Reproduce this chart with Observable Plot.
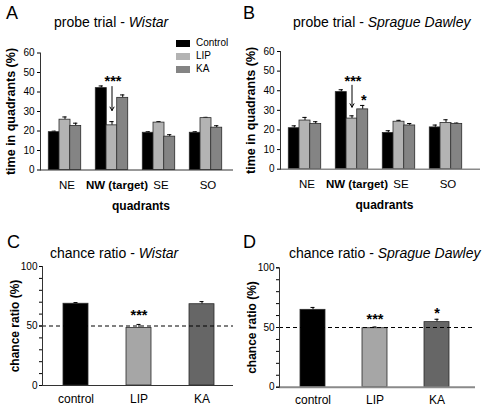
<!DOCTYPE html>
<html><head><meta charset="utf-8">
<script src="https://cdn.jsdelivr.net/npm/d3@7"></script>
<script src="https://cdn.jsdelivr.net/npm/@observablehq/plot@0.6"></script>
<style>
body{margin:0;background:#fff;}
#fig{position:relative;width:483px;height:407px;font-family:"Liberation Sans",Arial,sans-serif;color:#000;overflow:hidden;background:#fff}
.abs{position:absolute;line-height:1;white-space:nowrap}
.letter{font-size:18px}
.title{font-size:14px}
.sw{position:absolute;width:14px;height:7px}
.lg{position:absolute;font-size:10px;line-height:1}
svg{position:absolute;overflow:visible}
</style></head>
<body><div id="fig"></div>
<script>
// ---------- data ----------
const quadrants = ["NE", "NW (target)", "SE", "SO"];
const treatments = ["Control", "LIP", "KA"];
const wistarControl = [19.4, 42.0, 19.1, 19.1];
const wistarLIP = [25.8, 22.9, 24.3, 26.6];
const wistarKA = [22.6, 37.0, 17.1, 21.7];
const wistarControlErr = [0.5, 1.1, 0.5, 0.5];
const wistarLIPErr = [1.4, 1.9, 0.5, 0.4];
const wistarKAErr = [1.4, 1.5, 1.0, 1.0];
const sdControl = [20.9, 39.3, 18.5, 21.3];
const sdLIP = [24.8, 25.8, 24.2, 23.6];
const sdKA = [23.0, 30.5, 22.3, 23.1];
const sdControlErr = [1.2, 1.2, 1.1, 1.2];
const sdLIPErr = [1.6, 1.4, 0.7, 1.6];
const sdKAErr = [1.2, 2.0, 1.0, 0.4];
const ratioGroups = ["control", "LIP", "KA"];
const ratioWistar = [68.7, 48.3, 68.3];
const ratioWistarErr = [1.0, 3.0, 2.2];
const ratioSD = [64.8, 49.4, 54.5];
const ratioSDErr = [2.0, 1.0, 2.4];
const probeTicks = [0, 10, 20, 30, 40, 50, 60];
const ratioTicks = [0, 50, 100];
const ratioMinorTicks = [0, 10, 20, 30, 40, 50, 60, 70, 80, 90, 100];
const chanceLevel = [50];
const wistarProbeStars = [{q: "NW (target)", g: "LIP", y: 45.6, t: "***"}];
const wistarProbeArrows = [{q: "NW (target)", y1: 42.8, y2: 30.5}];
const sdProbeStars = [{q: "NW (target)", g: "LIP", y: 44.6, t: "***"}, {q: "NW (target)", g: "KA", y: 35.0, t: "*"}];
const sdProbeArrows = [{q: "NW (target)", y1: 42.8, y2: 31.6}];
const wistarRatioStars = [{k: "LIP", y: 59.2, t: "***"}];
const sdRatioStars = [{k: "LIP", y: 57.1, t: "***"}, {k: "KA", y: 62.1, t: "*"}];

const FONT = "Liberation Sans, Arial, sans-serif";
const fig = document.getElementById("fig");

function place(el, left, top) { el.style.left = left + "px"; el.style.top = top + "px"; fig.appendChild(el); }
function html(cls, inner, left, top) { const d = document.createElement("div"); d.className = "abs " + cls; d.innerHTML = inner; place(d, left, top); }

function probePanel(o) {
  const colors = {Control: "#000", LIP: "#b3b3b3", KA: "#848484"};
  const series = {Control: [o.c, o.ce], LIP: [o.l, o.le], KA: [o.k, o.ke]};
  const bw = d3.scaleBand().domain(quadrants).range(o.range).paddingInner(o.pi).paddingOuter(o.po).bandwidth();
  const off = {Control: -bw, LIP: 0, KA: bw};
  const marks = [];
  for (const g of treatments) {
    const rows = quadrants.map((q, i) => ({q, v: series[g][0][i], e: series[g][1][i]}));
    marks.push(Plot.ruleX(rows, {x: "q", y1: "v", y2: d => d.v + d.e, dx: off[g], stroke: "#000", strokeWidth: 1}));
    marks.push(Plot.tickY(rows, {x: "q", y: d => d.v + d.e, dx: off[g], insetLeft: (bw - 4) / 2, insetRight: (bw - 4) / 2, stroke: "#000", strokeWidth: 1}));
    marks.push(Plot.barY(rows, {x: "q", y: "v", dx: off[g], fill: colors[g], stroke: "#2a2a2a", strokeWidth: 0.8}));
  }
  marks.push(
    Plot.ruleY([0], {stroke: o.axisColor, strokeWidth: o.axisWidth}),
    Plot.frame({anchor: "left", stroke: "#333"}),
    Plot.axisY(probeTicks, {tickSize: 3, tickPadding: 3, fontSize: 10, label: null}),
    Plot.axisX(quadrants.filter(q => q !== "NW (target)"), {tickSize: 0, tickPadding: 11, fontSize: 11.5, dx: 2, label: null}),
    Plot.axisX(["NW (target)"], {tickSize: 0, tickPadding: 11, fontSize: 11.5, fontWeight: "bold", dx: 5, label: null}),
    Plot.text(["time in quadrants (%)"], {frameAnchor: "left", textAnchor: "middle", lineAnchor: "middle", rotate: -90, dx: -30, fontSize: 12.5, fontWeight: "bold"}),
    Plot.text(["quadrants"], {frameAnchor: "bottom", textAnchor: "middle", lineAnchor: "middle", dy: 36, dx: 4, fontSize: 12, fontWeight: "bold"}),
    Plot.arrow(o.arrows, {x1: "q", x2: "q", y1: "y1", y2: "y2", stroke: "#000", strokeWidth: 1, headLength: 6})
  );
  for (const g of treatments) {
    const s = o.stars.filter(d => d.g === g);
    if (s.length) marks.push(Plot.text(s, {x: "q", y: "y", text: "t", dx: off[g] + 1, fontSize: 14.5, fontWeight: "bold"}));
  }
  const svg = Plot.plot({
    width: o.width, height: 215,
    marginLeft: o.ml, marginRight: o.mr, marginTop: o.mt, marginBottom: o.mb,
    x: {domain: quadrants, range: o.range, paddingInner: o.pi, paddingOuter: o.po},
    y: {domain: [0, 60]},
    style: {fontFamily: FONT, fontSize: "10px", background: "transparent", color: "#000", overflow: "visible"},
    marks
  });
  place(svg, o.left, o.top);
}

function ratioPanel(o) {
  const colors = {control: "#000", LIP: "#a6a6a6", KA: "#666"};
  const rows = ratioGroups.map((k, i) => ({k, v: o.v[i], e: o.e[i]}));
  const marks = [];
  marks.push(Plot.ruleX(rows, {x: "k", y1: "v", y2: d => d.v + d.e, stroke: "#000", strokeWidth: 1}));
  marks.push(Plot.tickY(rows, {x: "k", y: d => d.v + d.e, insetLeft: 10.5, insetRight: 10.5, stroke: "#000", strokeWidth: 1}));
  for (const k of ratioGroups) {
    marks.push(Plot.barY(rows.filter(r => r.k === k), {x: "k", y: "v", fill: colors[k], stroke: "#2a2a2a", strokeWidth: 0.8}));
  }
  marks.push(
    Plot.ruleY(chanceLevel, {stroke: "#000", strokeWidth: 1, strokeDasharray: "4,3"}),
    Plot.ruleY([0], {stroke: o.axisColor, strokeWidth: o.axisWidth}),
    Plot.frame({anchor: "left", stroke: "#333"}),
    Plot.axisY(ratioMinorTicks, {tickSize: 3, tickFormat: () => "", label: null}),
    Plot.axisY(ratioTicks, {tickSize: 3, tickPadding: 2, fontSize: 10, label: null}),
    Plot.axisX(ratioGroups, {tickSize: 0, tickPadding: o.xpad, fontSize: 12, label: null}),
    Plot.text(["chance ratio (%)"], {frameAnchor: "left", textAnchor: "middle", lineAnchor: "middle", rotate: -90, dx: -27, fontSize: 12, fontWeight: "bold"}),
    Plot.text(o.stars, {x: "k", y: "y", text: "t", fontSize: 14.5, fontWeight: "bold"})
  );
  const svg = Plot.plot({
    width: o.width, height: 207,
    marginLeft: o.ml, marginRight: o.mr, marginTop: o.mt, marginBottom: o.mb,
    x: {domain: ratioGroups, range: o.range, paddingInner: o.pi, paddingOuter: o.po},
    y: {domain: [0, 100]},
    style: {fontFamily: FONT, fontSize: "10px", background: "transparent", color: "#000", overflow: "visible"},
    marks
  });
  place(svg, o.left, o.top);
}

probePanel({left: 0, top: 0, width: 240, ml: 40, mr: 7, mt: 52.5, mb: 45.5, range: [40, 230.2], pi: 0.774, po: 0.393,
  c: wistarControl, l: wistarLIP, k: wistarKA, ce: wistarControlErr, le: wistarLIPErr, ke: wistarKAErr,
  stars: wistarProbeStars, arrows: wistarProbeArrows, axisColor: "#333", axisWidth: 1});
probePanel({left: 240, top: 0, width: 243, ml: 40, mr: 3, mt: 51, mb: 46.3, range: [40, 230.2], pi: 0.774, po: 0.393,
  c: sdControl, l: sdLIP, k: sdKA, ce: sdControlErr, le: sdLIPErr, ke: sdKAErr,
  stars: sdProbeStars, arrows: sdProbeArrows, axisColor: "#8a8a8a", axisWidth: 1.6});
ratioPanel({left: 0, top: 200, width: 240, ml: 42, mr: 7, mt: 66, mb: 22, range: [42, 235], pi: 0.596, po: 0.329, xpad: 9,
  v: ratioWistar, e: ratioWistarErr, stars: wistarRatioStars, axisColor: "#333", axisWidth: 1});
ratioPanel({left: 240, top: 200, width: 243, ml: 39, mr: 8, mt: 67.3, mb: 20.3, range: [39, 229.6], pi: 0.592, po: 0.309, xpad: 8,
  v: ratioSD, e: ratioSDErr, stars: sdRatioStars, axisColor: "#8a8a8a", axisWidth: 2});

// letters and titles
html("letter", "A", 6, 3.8);
html("title", "probe trial - <i>Wistar</i>", 54, 15.2);
html("letter", "B", 243, 3.8);
html("title", "probe trial - <i>Sprague Dawley</i>", 293, 15.2);
html("letter", "C", 7, 232.8);
html("title", "chance ratio - <i>Wistar</i>", 50, 246);
html("letter", "D", 243, 232.8);
html("title", "chance ratio - <i>Sprague Dawley</i>", 289, 246);

// legend (panel A)
const legendColors = ["#000", "#b3b3b3", "#848484"];
const legendY = [43, 56, 69];
treatments.forEach((t, i) => {
  const s = document.createElement("div"); s.className = "sw"; s.style.background = legendColors[i];
  place(s, 176, legendY[i] - 3.5);
  const l = document.createElement("div"); l.className = "lg"; l.textContent = t;
  place(l, 196, legendY[i] - 5.5);
});
</script>
</body></html>
